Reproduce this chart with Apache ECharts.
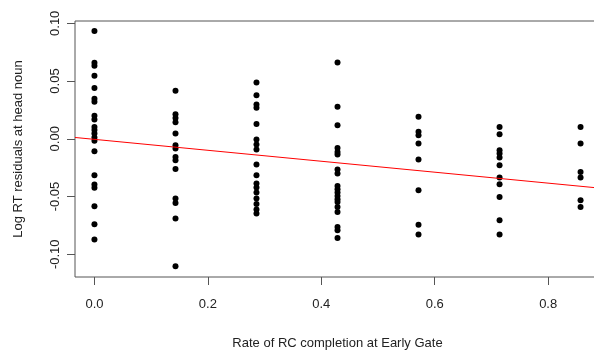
<!DOCTYPE html>
<html>
<head>
<meta charset="utf-8">
<script src="https://cdn.jsdelivr.net/npm/echarts@6/dist/echarts.min.js"></script>
<style>
html,body{margin:0;padding:0;background:#fff;}
#chart{width:594px;height:353px;}
</style>
</head>
<body>
<div id="chart"></div>
<script>
// x levels (rate of RC completion)
var xLevels = [0, 0.1429, 0.2857, 0.4286, 0.5714, 0.7143, 0.8571];
// residuals per x level
var col0 = [0.0933, 0.0658, 0.0632, 0.0545, 0.0439, 0.0346, 0.032, 0.0199, 0.0167, 0.0103, 0.0075, 0.0046, 0.0011, -0.0018, -0.0108, -0.0316, -0.0396, -0.0425, -0.0584, -0.074, -0.0873];
var col1 = [0.0415, 0.0213, 0.0179, 0.0144, 0.0046, -0.0055, -0.0084, -0.0157, -0.0186, -0.0261, -0.0518, -0.0556, -0.0691, -0.1104];
var col2 = [0.0488, 0.0378, 0.0297, 0.0268, 0.0127, -0.0006, -0.0049, -0.0093, -0.0223, -0.0316, -0.0388, -0.0422, -0.0466, -0.0518, -0.0564, -0.0613, -0.0648];
var col3 = [0.0661, 0.0277, 0.0118, -0.0079, -0.0114, -0.0136, -0.0266, -0.0301, -0.0408, -0.0437, -0.0466, -0.0495, -0.0524, -0.0547, -0.059, -0.0634, -0.0764, -0.0792, -0.0859];
var col4 = [0.019, 0.006, 0.0031, -0.0041, -0.0179, -0.0446, -0.0745, -0.083];
var col5 = [0.0103, 0.004, -0.0099, -0.0127, -0.0162, -0.0229, -0.0336, -0.0394, -0.0504, -0.0706, -0.083];
var col6 = [0.0103, -0.0041, -0.0287, -0.0336, -0.0532, -0.059];
var columns = [col0, col1, col2, col3, col4, col5, col6];
// fitted regression line
var fitIntercept = -0.0005;
var fitSlope = -0.0474;
// axis ranges and ticks
var xMin = -0.0343, xMax = 0.8914;
var yMin = -0.1197, yMax = 0.102;
var xTicks = [0, 0.2, 0.4, 0.6, 0.8];
var yTicks = [-0.10, -0.05, 0, 0.05, 0.10];

var points = [];
columns.forEach(function (col, i) {
  col.forEach(function (v) { points.push([xLevels[i], v]); });
});
var fitLine = [[xMin, fitIntercept + fitSlope * xMin], [xMax, fitIntercept + fitSlope * xMax]];

var font = 'Liberation Sans, Arial, sans-serif';
var chart = echarts.init(document.getElementById('chart'), null, {renderer: 'canvas'});
chart.setOption({
  backgroundColor: '#fff',
  animation: false,
  grid: {left: 75, top: 21, right: -6, bottom: 76, show: true, borderColor: '#555', borderWidth: 1,
    backgroundColor: 'transparent', containLabel: false, outerBoundsMode: 'none'},
  xAxis: {
    type: 'value', min: xMin, max: xMax,
    name: 'Rate of RC completion at Early Gate', nameLocation: 'middle', nameGap: 60,
    nameTextStyle: {fontFamily: font, fontSize: 13, color: '#222'},
    axisLine: {show: false, onZero: false},
    axisTick: {show: true, inside: false, length: 8, customValues: xTicks, lineStyle: {color: '#555'}},
    axisLabel: {customValues: xTicks, margin: 21, fontFamily: font, fontSize: 13, color: '#222',
      formatter: function (v) { return v.toFixed(1); }},
    splitLine: {show: false}
  },
  yAxis: {
    type: 'value', min: yMin, max: yMax,
    name: 'Log RT residuals at head noun', nameLocation: 'middle', nameGap: 50, nameRotate: 90,
    nameTextStyle: {fontFamily: font, fontSize: 13, color: '#222'},
    axisLine: {show: false, onZero: false},
    axisTick: {show: true, inside: false, length: 8, customValues: yTicks, lineStyle: {color: '#555'}},
    axisLabel: {customValues: yTicks, rotate: 90, margin: 13, fontFamily: font, fontSize: 13, color: '#222',
      formatter: function (v) { return v.toFixed(2); }},
    splitLine: {show: false}
  },
  series: [
    {type: 'scatter', data: points, symbol: 'circle', symbolSize: 6, itemStyle: {color: '#000', opacity: 1}, z: 3},
    {type: 'line', data: fitLine, symbol: 'none', lineStyle: {color: '#ff0000', width: 1}, clip: true, z: 4}
  ]
});
</script>
</body>
</html>
